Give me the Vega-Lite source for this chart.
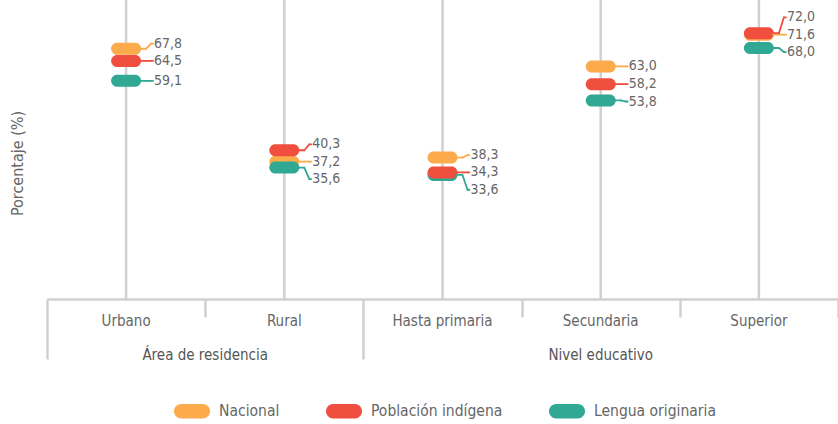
{
  "$schema": "https://vega.github.io/schema/vega-lite/v6.json",
  "width": 791,
  "height": 299,
  "autosize": {"type": "none"},
  "padding": {"left": 47, "top": 0, "right": 0, "bottom": 125},
  "config": {
    "view": {"stroke": null},
    "font": "Liberation Sans Narrow, DejaVu Sans Condensed, sans-serif",
    "text": {"font": "Liberation Sans Narrow, DejaVu Sans Condensed, sans-serif"}
  },
  "datasets": {
    "main": [
      {"cat": "Urbano", "series": "Nacional", "value": 67.8},
      {"cat": "Rural", "series": "Nacional", "value": 37.2},
      {"cat": "Hasta primaria", "series": "Nacional", "value": 38.3},
      {"cat": "Secundaria", "series": "Nacional", "value": 63.0},
      {"cat": "Superior", "series": "Nacional", "value": 71.6},
      {"cat": "Urbano", "series": "Lengua originaria", "value": 59.1},
      {"cat": "Rural", "series": "Lengua originaria", "value": 35.6},
      {"cat": "Hasta primaria", "series": "Lengua originaria", "value": 33.6},
      {"cat": "Secundaria", "series": "Lengua originaria", "value": 53.8},
      {"cat": "Superior", "series": "Lengua originaria", "value": 68.0},
      {"cat": "Urbano", "series": "Población indígena", "value": 64.5},
      {"cat": "Rural", "series": "Población indígena", "value": 40.3},
      {"cat": "Hasta primaria", "series": "Población indígena", "value": 34.3},
      {"cat": "Secundaria", "series": "Población indígena", "value": 58.2},
      {"cat": "Superior", "series": "Población indígena", "value": 72.0}
    ],
    "cats": [
      {"cat": "Urbano", "group": "Área de residencia"},
      {"cat": "Rural", "group": "Área de residencia"},
      {"cat": "Hasta primaria", "group": "Nivel educativo"},
      {"cat": "Secundaria", "group": "Nivel educativo"},
      {"cat": "Superior", "group": "Nivel educativo"}
    ]
  },
  "layer": [
    {
      "data": {"name": "cats"},
      "transform": [{"calculate": "indexof(['Urbano','Rural','Hasta primaria','Secundaria','Superior'], datum.cat)", "as": "pos"}],
      "mark": {"type": "rule", "color": "#d0d0d0", "strokeWidth": 2.5},
      "encoding": {
        "x": {
          "field": "pos", "type": "quantitative",
          "scale": {"domain": [-0.5, 4.5], "nice": false, "zero": false},
          "axis": {
            "values": [-0.5, 0.5, 1.5, 2.5, 3.5, 4.5],
            "labels": false, "grid": false, "title": null,
            "domainColor": "#d0d0d0", "domainWidth": 2.5,
            "tickColor": "#d0d0d0", "tickWidth": 2.5,
            "tickSize": {"condition": {"test": "datum.value == -0.5 || datum.value == 1.5", "value": 60}, "value": 18}
          }
        }
      }
    },
    {
      "data": {"name": "main"},
      "transform": [
        {"calculate": "indexof(['Urbano','Rural','Hasta primaria','Secundaria','Superior'], datum.cat)", "as": "pos"}
      ],
      "mark": {"type": "point", "filled": true, "opacity": 1, "size": 900, "strokeWidth": 0,
        "shape": "M-0.6,-0.4 H0.6 A0.4,0.4 0 0 1 0.6,0.4 H-0.6 A0.4,0.4 0 0 1 -0.6,-0.4 Z"},
      "encoding": {
        "x": {"field": "pos", "type": "quantitative"},
        "y": {
          "field": "value", "type": "quantitative",
          "scale": {"domain": [0, 81], "nice": false},
          "axis": {
            "title": "Porcentaje (%)", "labels": false, "ticks": false, "domain": false, "grid": false,
            "titleFont": "Liberation Sans Narrow, DejaVu Sans Condensed, sans-serif",
            "titleFontSize": 16, "titleFontWeight": "normal", "titleColor": "#666666",
            "titleX": -30, "titleY": 163, "titleBaseline": "middle", "titleAlign": "center", "titleAngle": -90
          }
        },
        "color": {
          "field": "series", "type": "nominal",
          "scale": {"domain": ["Nacional", "Población indígena", "Lengua originaria"], "range": ["#FBAB4B", "#F04E3E", "#31A894"]},
          "legend": {
            "title": null, "orient": "none", "direction": "horizontal",
            "legendX": 127, "legendY": 393,
            "symbolType": "M-0.6,-0.4 H0.6 A0.4,0.4 0 0 1 0.6,0.4 H-0.6 A0.4,0.4 0 0 1 -0.6,-0.4 Z",
            "symbolSize": 1296, "symbolStrokeWidth": 0, "symbolOpacity": 1,
            "labelFont": "Liberation Sans Narrow, DejaVu Sans Condensed, sans-serif",
            "labelFontSize": 15.5, "labelColor": "#666666", "labelOffset": 9, "columnPadding": 46
          }
        }
      }
    },
    {
      "data": {"name": "main"},
      "transform": [
        {"calculate": "indexof(['Urbano','Rural','Hasta primaria','Secundaria','Superior'], datum.cat)", "as": "pos"},
        {"joinaggregate": [{"op": "median", "field": "value", "as": "midv"}], "groupby": ["cat"]},
        {"calculate": "datum.value > datum.midv ? max(datum.value, datum.midv + 4.7) : (datum.value < datum.midv ? min(datum.value, datum.midv - 4.7) : datum.value)", "as": "ly"},
        {"calculate": "replace(format(datum.value, '.1f'), '.', ',')", "as": "lbl"}
      ],
      "layer": [
        {
          "mark": {"type": "rule", "xOffset": 14, "x2Offset": 20, "strokeWidth": 1.8, "strokeCap": "round"},
          "encoding": {
            "x": {"field": "pos", "type": "quantitative"},
            "x2": {"field": "pos"},
            "y": {"field": "value", "type": "quantitative"},
            "stroke": {"field": "series", "type": "nominal", "legend": null,
              "scale": {"domain": ["Nacional", "Población indígena", "Lengua originaria"], "range": ["#FBAB4B", "#F04E3E", "#31A894"]}}
          }
        },
        {
          "mark": {"type": "rule", "xOffset": 20, "x2Offset": 25, "strokeWidth": 1.8, "strokeCap": "round"},
          "encoding": {
            "x": {"field": "pos", "type": "quantitative"},
            "x2": {"field": "pos"},
            "y": {"field": "value", "type": "quantitative"},
            "y2": {"field": "ly"},
            "stroke": {"field": "series", "type": "nominal", "legend": null}
          }
        },
        {
          "mark": {"type": "rule", "xOffset": 25, "x2Offset": 27, "strokeWidth": 1.8, "strokeCap": "round"},
          "encoding": {
            "x": {"field": "pos", "type": "quantitative"},
            "x2": {"field": "pos"},
            "y": {"field": "ly", "type": "quantitative"},
            "stroke": {"field": "series", "type": "nominal", "legend": null}
          }
        },
        {
          "mark": {"type": "text", "dx": 28, "align": "left", "baseline": "middle", "fontSize": 14, "color": "#666666"},
          "encoding": {
            "x": {"field": "pos", "type": "quantitative"},
            "y": {"field": "ly", "type": "quantitative"},
            "text": {"field": "lbl"}
          }
        }
      ]
    },
    {
      "data": {"name": "cats"},
      "transform": [{"calculate": "indexof(['Urbano','Rural','Hasta primaria','Secundaria','Superior'], datum.cat)", "as": "pos"}],
      "mark": {"type": "text", "dy": 22, "align": "center", "baseline": "middle", "fontSize": 15, "color": "#666666"},
      "encoding": {
        "x": {"field": "pos", "type": "quantitative"},
        "y": {"datum": 0, "type": "quantitative"},
        "text": {"field": "cat"}
      }
    },
    {
      "data": {"name": "cats"},
      "transform": [
        {"calculate": "indexof(['Urbano','Rural','Hasta primaria','Secundaria','Superior'], datum.cat)", "as": "pos"},
        {"aggregate": [{"op": "mean", "field": "pos", "as": "pos"}], "groupby": ["group"]}
      ],
      "mark": {"type": "text", "dy": 56, "align": "center", "baseline": "middle", "fontSize": 15, "color": "#555555"},
      "encoding": {
        "x": {"field": "pos", "type": "quantitative"},
        "y": {"datum": 0, "type": "quantitative"},
        "text": {"field": "group"}
      }
    }
  ]
}
